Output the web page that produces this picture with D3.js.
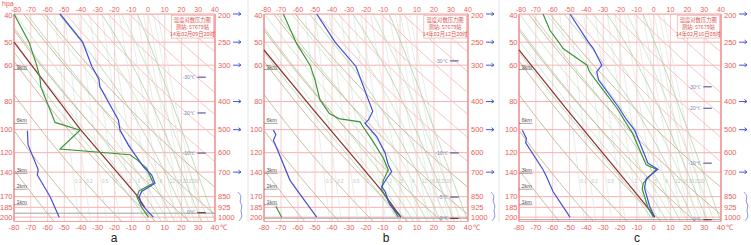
<!DOCTYPE html>
<html>
<head>
<meta charset="utf-8">
<script src="https://cdn.jsdelivr.net/npm/d3@7"></script>
<style>
  body { margin: 0; background: #fff; }
  svg { display: block; font-family: "Liberation Sans", Arial, sans-serif; }
</style>
</head>
<body>
<svg id="chart" width="751" height="245"></svg>
<script>
// axes
const levels = [200, 250, 300, 400, 500, 600, 700, 850, 925, 1000]
const leftLabels = [40, 50, 60, 80, 100, 120, 140, 170, 185, 200]
const tempTicks = [-80, -70, -60, -50, -40, -30, -20, -10, 0, 10, 20, 30, 40]
const heightLevels = [308, 472, 701, 795, 899]
const heightLabels = ["9km", "6km", "3km", "2km", "1km"]
const windLevels = [200, 250, 300, 400, 500, 700]
const mixingRatios = [0.1, 0.2, 0.5, 1, 2, 3, 5, 8, 12, 16, 20, 25, 30]
const titleText = ["温度对数压力图", "测站: 57679站"]

// panel a  [pressure hPa, °C]
const tempA = [[200,-52.5],[250,-39],[303,-33.5],[335,-29.3],[356,-28.7],[463,-17.7],[502,-16.7],[564,-11.8],[610,-7.8],[670,-2.8],[716,2.2],[764,4.2],[816,-3.8],[850,-5.2],[896,-4.2],[946,-0.8],[1000,3.2]]
const dewA = [[200,-80],[250,-71],[300,-66.5],[332,-64.5],[356,-64],[427,-58.5],[472,-55.5],[502,-40.6],[583,-52.5],[610,-10.7],[634,-6.7],[679,-0.8],[764,3.2],[811,-5.2],[850,-6.7],[925,-3.8],[1000,0.2]]
const parcelA = [[250,-80],[500,-40.3],[600,-28.5],[850,-6],[925,-2]]
const lowA = [[504,-72],[564,-71.6],[687,-65.5],[716,-66.1],[849,-58.5],[1000,-53]]

// panel b
const tempB = [[200,-49],[250,-38.2],[303,-25.9],[395,-18.6],[432,-16],[463,-18.6],[475,-20.6],[490,-18.6],[528,-13.7],[601,-8.8],[660,-6.9],[698,-4.9],[736,-7.8],[786,-10.8],[816,-8.8],[907,-5.9],[1000,0.5]]
const dewB = [[200,-68.6],[253,-60.8],[300,-52.9],[337,-50],[395,-47.1],[440,-41.5],[458,-36],[470,-23.5],[481,-22.5],[551,-15.7],[627,-9.8],[687,-6.9],[747,-9.8],[805,-10.8],[1000,-1]]
const parcelB = [[266,-80],[427,-51],[600,-29.6],[811,-10.8],[1000,0.5]]
const lowB = [[502,-74.5],[520,-73],[545,-74.5],[560,-73.5],[747,-64.7],[850,-57.8],[1000,-49]]
const lowDewB = [[917,-73],[1000,-69.6]]

// panel c
const tempC = [[200,-49.7],[250,-38.8],[263,-35.8],[300,-30.8],[316,-33.8],[337,-32.8],[417,-21],[463,-16],[502,-11.3],[652,-3.4],[684,2.5],[736,-4.4],[795,-5.4],[917,-2.4],[1000,0.6]]
const dewC = [[200,-65.7],[227,-61.7],[253,-55.8],[263,-53.8],[300,-39.6],[316,-38.1],[346,-33.1],[422,-21.8],[463,-17.5],[515,-12.5],[661,-4.5],[684,1.6],[764,-6.2],[801,-6.8],[925,-3.4],[1000,-0.2]]
const parcelC = [[266,-80],[427,-51.5],[917,-4.2],[1000,0.6]]
const lowC = [[502,-78],[536,-75.6],[555,-76],[687,-65.7],[724,-63.7],[816,-59.8],[1000,-49.7]]

// level marks on the right side of each diagram
const marksA = [[330,"-30℃"],[438,"-20℃"],[602,"-10℃"],[965,"0℃"]]
const marksB = [[290,"-30℃"],[601,"-10℃"],[853,"-5℃"],[1010,"0℃"]]
const marksC = [[356,"-30℃"],[422,"-20℃"],[652,"-10℃"],[1020,"0℃"]]

const panels = [
  {name: "a", left: 14, right: 215, letterX: 114, date: "14年02月09日20时", temp: tempA, dew: dewA, parcel: parcelA, low: lowA, lowDew: [], marks: marksA, base: 969},
  {name: "b", left: 264, right: 468, letterX: 386, date: "14年02月12日20时", temp: tempB, dew: dewB, parcel: parcelB, low: lowB, lowDew: lowDewB, marks: marksB, base: 1008},
  {name: "c", left: 519, right: 721, letterX: 637, date: "14年02月16日08时", temp: tempC, dew: dewC, parcel: parcelC, low: lowC, lowDew: [], marks: marksC, base: 1020}
]

// small helper, like d3-selection-multi
d3.selection.prototype.attrs = function(o) {
  for (let k in o) this.attr(k, o[k])
  return this
}

const red = "#e9605a"
const svg = d3.select("#chart")

// thermodynamic background lines
function dryAdiabat(theta) {
  return d3.range(200, 1041, 10).map(p => [p, theta * Math.pow(p / 1000, 0.2857) - 273.15])
}

function moistAdiabat(t0) {
  let pts = [], T = t0 + 273.15
  for (let p = 1035; p >= 195; p -= 5) {
    pts.push([p, T - 273.15])
    let tc = T - 273.15
    let es = 6.112 * Math.exp(17.67 * tc / (tc + 243.5))
    let rs = 0.622 * es / (p - es)
    let dTdp = (287 * T + 2.5e6 * rs) / (p * (1005 + 2.5e6 * 2.5e6 * rs * 0.622 / (287 * T * T)))
    T -= dTdp * 5
  }
  return pts
}

function mixingLine(w) {
  return d3.range(200, 1041, 20).map(p => {
    let e = w * p / (622 + w), l = Math.log(e / 6.112)
    return [p, 243.5 * l / (17.67 - l)]
  })
}

function drawPanel(p, i) {
  const xs = d3.scaleLinear().domain([-80, 40]).range([p.left, p.right])
  const ys = d3.scaleLog().domain([200, 1035]).range([14, 221.5])
  const line = d3.line().x(d => xs(d[1])).y(d => ys(d[0]))
  const g = svg.append("g")

  g.append("clipPath").attr("id", "clip" + i)
    .append("rect")
    .attrs({x: p.left, y: ys(200), width: p.right - p.left, height: ys(1035) - ys(200)})

  const bg = g.append("g").attr("clip-path", `url(#clip${i})`)

  bg.selectAll(".vgrid").data(tempTicks).enter()
    .append("line")
    .attrs({x1: d => xs(d), x2: d => xs(d), y1: ys(200), y2: ys(1035), stroke: "#f6c2c2", "stroke-width": 0.8})

  bg.selectAll(".hgrid").data(levels).enter()
    .append("line")
    .attrs({x1: p.left, x2: p.right, y1: d => ys(d), y2: d => ys(d), stroke: "#f4b2b2", "stroke-width": 1})

  bg.selectAll(".mix").data(mixingRatios).enter()
    .append("path")
    .attrs({d: d => line(mixingLine(d)), fill: "none", stroke: "#e0e4e0", "stroke-width": 0.7})

  bg.selectAll(".mixlab").data(mixingRatios).enter()
    .append("text")
    .attrs({x: d => xs(mixingLine(d).find(q => q[0] >= 750)[1]) + 1, y: ys(750) + 2,
      "font-size": 4.5, fill: "#bcc2bc"})
    .text(d => d)

  bg.selectAll(".moist").data(d3.range(0, 41, 4)).enter()
    .append("path")
    .attrs({d: d => line(moistAdiabat(d)), fill: "none", stroke: (d, k) => k % 2 ? "#bcdcb6" : "#9fcd98", "stroke-width": 0.7})

  bg.selectAll(".dry").data(d3.range(215, 536, 20)).enter()
    .append("path")
    .attrs({d: d => line(dryAdiabat(d)), fill: "none", stroke: d => d < 340 ? "#c6b293" : "#f5bcbc", "stroke-width": 0.9})

  // surface line
  bg.append("line")
    .attrs({x1: p.left, x2: p.right, y1: ys(p.base), y2: ys(p.base), stroke: "#a0a0a0", "stroke-width": 1})

  // frame
  g.append("line").attrs({x1: p.left, x2: p.left, y1: ys(200), y2: ys(1035), stroke: "#f19494", "stroke-width": 1.6})
  g.append("line").attrs({x1: p.right, x2: p.right, y1: ys(200), y2: ys(1035), stroke: "#f19494", "stroke-width": 1.6})
  g.append("line").attrs({x1: p.left, x2: p.right, y1: ys(200), y2: ys(200), stroke: "#f3a5a5", "stroke-width": 1})
  g.append("line").attrs({x1: p.left, x2: p.right, y1: ys(1035), y2: ys(1035), stroke: "#f3a5a5", "stroke-width": 1})

  // title box
  g.append("rect")
    .attrs({x: xs(14), y: ys(202), width: xs(39) - xs(14), height: ys(242) - ys(202), fill: "#fff", stroke: "#f2a8a8", "stroke-width": 0.7})
  g.selectAll(".title").data(titleText.concat([p.date])).enter()
    .append("text")
    .attrs({x: xs(26.5), y: (d, k) => ys(202) + 6.5 + k * 7, "text-anchor": "middle", "font-size": 5.3,
      fill: "#d8524c", "font-family": "Noto Sans CJK SC"})
    .text(d => d)

  // height marks
  g.selectAll(".km").data(heightLevels).enter()
    .append("text")
    .attrs({x: xs(-78.5), y: d => ys(d), "font-size": 5.5, fill: "#555"})
    .text((d, k) => heightLabels[k])
  g.selectAll(".kmline").data(heightLevels).enter()
    .append("line")
    .attrs({x1: p.left, x2: xs(-72), y1: d => ys(d) + 1, y2: d => ys(d) + 1, stroke: "#666", "stroke-width": 0.6})

  // level marks
  g.selectAll(".mark").data(p.marks).enter()
    .append("text")
    .attrs({x: xs(28), y: d => ys(d[0]) + 1.8, "text-anchor": "end", "font-size": 5, fill: "#7b7fb0"})
    .text(d => d[1])
  g.selectAll(".markline").data(p.marks).enter()
    .append("line")
    .attrs({x1: xs(29.5), x2: xs(34.5), y1: d => ys(d[0]), y2: d => ys(d[0]), stroke: (d, k) => k == p.marks.length - 1 ? "#6b3a3a" : "#5a5ea8", "stroke-width": 1.2})

  // sounding curves
  const curves = [
    [p.low, "#4450d6"], [p.lowDew, "#3c963c"], [p.parcel, "#8f2f2f"], [p.dew, "#3c963c"], [p.temp, "#3f4fd8"]
  ]
  g.selectAll(".curve").data(curves.filter(c => c[0].length)).enter()
    .append("path")
    .attrs({d: d => line(d[0]), fill: "none", stroke: d => d[1], "stroke-width": 1.2})

  // axis labels
  g.selectAll(".top").data(tempTicks).enter()
    .append("text")
    .attrs({x: d => xs(d) + (d == -80 ? 2 : 0), y: 11.5, "text-anchor": "middle", "font-size": 7, fill: red})
    .text(d => d)
  g.selectAll(".bottom").data(tempTicks).enter()
    .append("text")
    .attrs({x: d => xs(d), y: 230, "text-anchor": "middle", "font-size": 7.5, fill: red})
    .text(d => d)
  g.append("text")
    .attrs({x: xs(40) + 4.5, y: 230, "font-size": 7.5, fill: red})
    .text("℃")
  g.selectAll(".lefty").data(levels).enter()
    .append("text")
    .attrs({x: p.left - 1.5, y: d => ys(d) + 2.7 + (d == 200 ? 1 : 0), "text-anchor": "end", "font-size": 7.5, fill: red})
    .text((d, k) => leftLabels[k])
  g.selectAll(".righty").data(levels).enter()
    .append("text")
    .attrs({x: p.right + 3, y: d => ys(d) + 2.7 + (d == 200 ? 1 : 0), "font-size": 7.5, fill: red})
    .text(d => d)

  // wind barbs
  const wx = p.right + 22
  g.selectAll(".barb").data(windLevels).enter()
    .append("path")
    .attrs({d: d => `M${wx - 4},${ys(d)}H${wx + 4}M${wx + 4},${ys(d)}L${wx + 1.5},${ys(d) - 2}M${wx + 4},${ys(d)}L${wx + 1.5},${ys(d) + 1.5}`,
      fill: "none", stroke: "#4b57d4", "stroke-width": 1})
  g.append("path")
    .attrs({d: d3.line().curve(d3.curveBasis).x(d => wx + d[1]).y(d => ys(d[0]))([[820, 1], [850, 5], [880, 2], [915, 6], [950, 3], [990, 6], [1030, 2]]),
      fill: "none", stroke: "#6b74d8", "stroke-width": 0.8})

  g.append("text")
    .attrs({x: p.letterX, y: 242, "text-anchor": "middle", "font-size": 12, fill: "#222"})
    .text(p.name)
}

panels.forEach(drawPanel)

svg.append("text").attrs({x: 2, y: 6, "font-size": 7, fill: red}).text("hpa")
svg.selectAll(".sep").data([248, 499]).enter()
  .append("line")
  .attrs({x1: d => d, x2: d => d, y1: 0, y2: 222, stroke: "#e3e3e3", "stroke-width": 1})
</script>
</body>
</html>
